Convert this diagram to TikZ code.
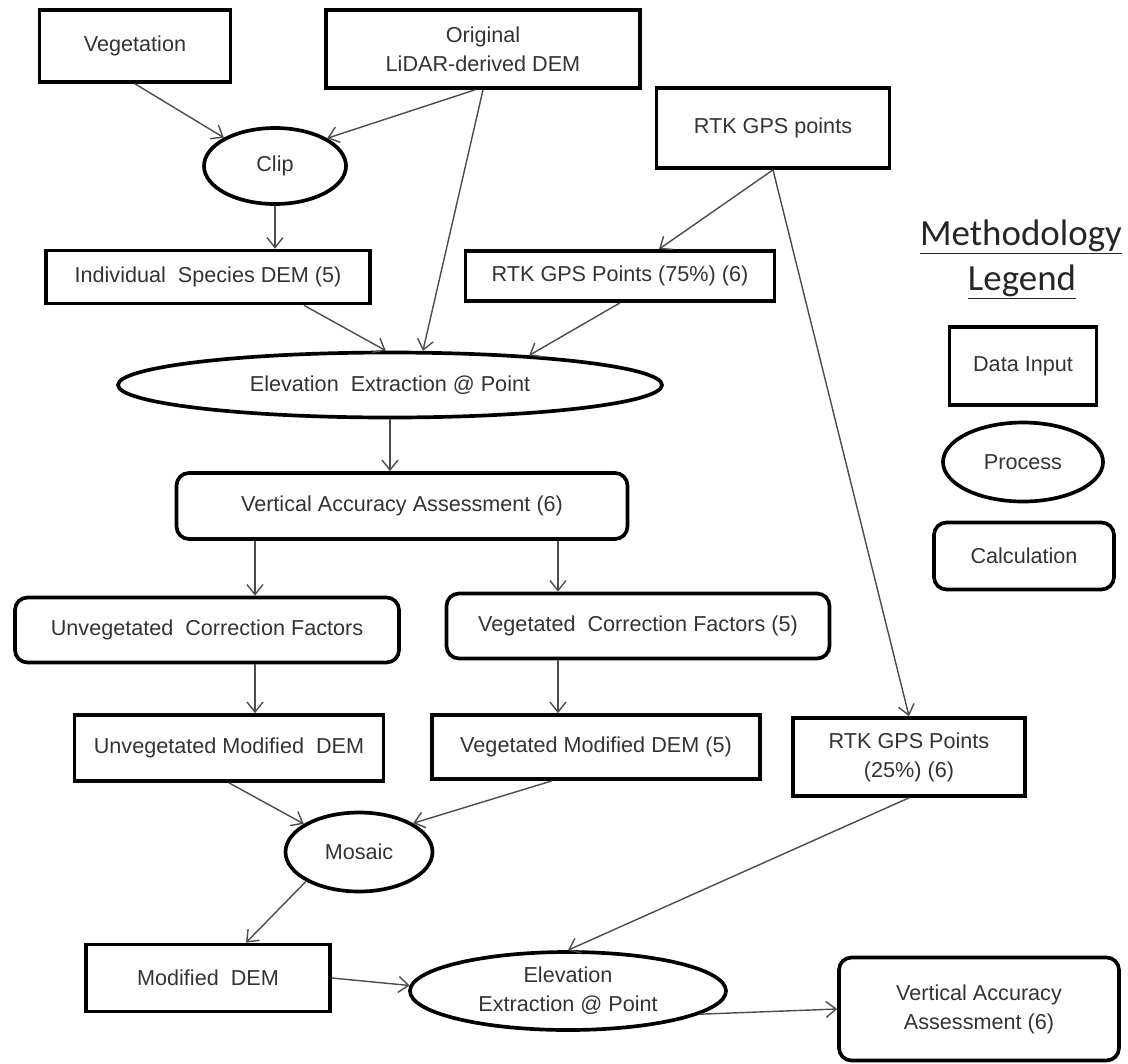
\documentclass[tikz,border=0pt]{standalone}
\usepackage{fontspec}
\setmainfont{Liberation Sans}
\newfontfamily\legendfont{Carlito}
\usetikzlibrary{shapes}
\usetikzlibrary{arrows.meta}

\tikzset{
  inputbox/.style={draw,rectangle,line width=2.1pt,text=black!80,
                   font=\fontsize{12.3}{16.5}\selectfont,align=center,inner sep=0pt},
  procell/.style={inputbox,ellipse},
  calcbox/.style={inputbox,rounded corners=0.25cm},
  flow/.style={->,line width=0.8pt,draw=black!70},
}

\begin{document}
\begin{tikzpicture}[>={Straight Barb[length=2mm,width=3.2mm]}]
      \path[use as bounding box] (0,0) rectangle (22.56,-21.26);

      % top inputs
      \node[inputbox,minimum width=3.82cm,minimum height=1.44cm] (veg) at (2.70,-0.92) {Vegetation};
      \node[inputbox,minimum width=6.28cm,minimum height=1.56cm] (orig) at (9.66,-0.98) {Original\\LiDAR-derived DEM};
      \node[inputbox,minimum width=4.66cm,minimum height=1.60cm] (rtk) at (15.46,-2.56) {RTK GPS points};

      \node[procell,minimum width=2.84cm,minimum height=1.52cm] (clip) at (5.50,-3.32) {Clip};

      \node[inputbox,minimum width=6.48cm,minimum height=1.06cm] (species) at (4.16,-5.54) {Individual\ \ Species DEM (5)};
      \node[inputbox,minimum width=6.18cm,minimum height=1.00cm] (rtk75) at (12.40,-5.52) {RTK GPS Points (75\%) (6)};

      \node[procell,minimum width=10.88cm,minimum height=1.30cm] (elev) at (7.80,-7.70) {Elevation\ \ Extraction @ Point};

      \node[calcbox,minimum width=9.02cm,minimum height=1.32cm] (vaa) at (8.04,-10.12) {Vertical Accuracy Assessment (6)};

      % correction branches
      \coordinate (colL) at (5.10,0);
      \coordinate (colR) at (11.16,0);
      \node[calcbox,minimum width=7.68cm,minimum height=1.30cm] (unvegcf) at (4.14,-12.60) {Unvegetated\ \ Correction Factors};
      \node[calcbox,minimum width=7.66cm,minimum height=1.30cm] (vegcf) at (12.76,-12.52) {Vegetated\ \ Correction Factors (5)};

      \node[inputbox,minimum width=6.18cm,minimum height=1.32cm] (unvegmd) at (4.58,-14.96) {Unvegetated Modified\ \ DEM};
      \node[inputbox,minimum width=6.56cm,minimum height=1.28cm] (vegmd) at (11.92,-14.94) {Vegetated Modified DEM (5)};
      \node[inputbox,minimum width=4.64cm,minimum height=1.56cm] (rtk25) at (18.18,-15.14) {RTK GPS Points\\(25\%) (6)};

      \node[procell,minimum width=2.94cm,minimum height=1.58cm] (mosaic) at (7.18,-17.04) {Mosaic};

      \node[inputbox,minimum width=4.88cm,minimum height=1.34cm] (moddem) at (4.16,-19.56) {Modified\ \ DEM};
      \node[procell,minimum width=6.32cm,minimum height=1.56cm] (elev2) at (11.36,-19.82) {Elevation\\Extraction @ Point};
      \node[calcbox,minimum width=5.60cm,minimum height=2.06cm] (vaa2) at (19.58,-20.18) {Vertical Accuracy\\Assessment (6)};

      % legend
      \node[anchor=base,text=black!85,font=\legendfont\fontsize{21}{25}\selectfont] (legtitle) at (20.42,-4.90) {\underline{Methodology}};
      \node[anchor=base,text=black!85,font=\legendfont\fontsize{21}{25}\selectfont] (legsub) at (20.44,-5.80) {\underline{Legend}};
      \node[inputbox,minimum width=2.94cm,minimum height=1.56cm] (legin) at (20.46,-7.32) {Data Input};
      \node[procell,minimum width=3.20cm,minimum height=1.58cm] (legproc) at (20.46,-9.24) {Process};
      \node[calcbox,minimum width=3.60cm,minimum height=1.34cm] (legcalc) at (20.48,-11.12) {Calculation};

      % connectors
      \draw[flow] (veg.south) -- (clip.151);
      \draw[flow] ([xshift=-0.16cm]orig.south) -- (clip.28);
      \draw[flow] (orig.south) -- (elev.46);
      \draw[flow] (clip.south) -- (clip.south |- species.north);
      \draw[flow] ([xshift=1.92cm]species.south) -- (elev.97);
      \draw[flow] (rtk.south) -- ([xshift=0.78cm]rtk75.north);
      \draw[flow] (rtk.south) -- (rtk25.north);
      \draw[flow] (rtk75.south) -- (elev.12);
      \draw[flow] (elev.south) -- (elev.south |- vaa.north);
      \draw[flow] (vaa.south -| colL) -- (unvegcf.north -| colL);
      \draw[flow] (vaa.south -| colR) -- (vegcf.north -| colR);
      \draw[flow] (unvegcf.south -| colL) -- (unvegmd.north -| colL);
      \draw[flow] (vegcf.south -| colR) -- (vegmd.north -| colR);
      \draw[flow] (unvegmd.south) -- (mosaic.153);
      \draw[flow] ([xshift=-0.88cm]vegmd.south) -- (mosaic.28);
      \draw[flow] (mosaic.209) -- ([xshift=0.76cm]moddem.north);
      \draw[flow] (moddem.east) -- (elev2.178);
      \draw[flow] (rtk25.south) -- (elev2.north);
      \draw[flow] (elev2.350) -- (vaa2.west);
\end{tikzpicture}
\end{document}
